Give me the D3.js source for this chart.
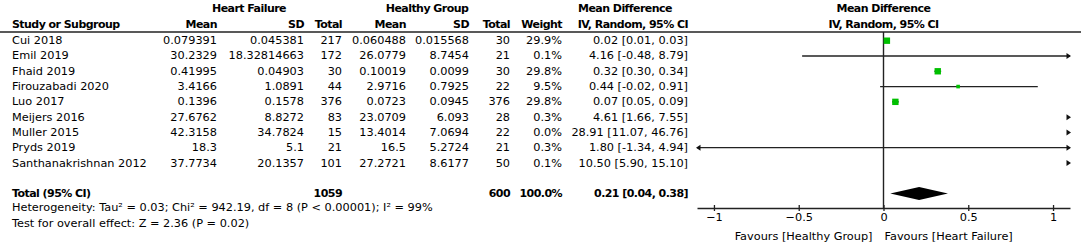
<!DOCTYPE html>
<html lang="en">
<head>
  <meta charset="UTF-8">
  <title>Forest plot: Heart Failure vs Healthy Group</title>
  <style>
    body { margin: 0; background: #fff; }
    svg { display: block; font-family: "DejaVu Sans", sans-serif; font-size: 11.3px; }
    .b { font-weight: bold; font-size: 11px; letter-spacing: -0.55px; }
  </style>
</head>
<body>
  <script src="https://d3js.org/d3.v7.min.js"></script>
  <script>
    // data
    const studies = ['Cui 2018', 'Emil 2019', 'Fhaid 2019', 'Firouzabadi 2020', 'Luo 2017',
      'Meijers 2016', 'Muller 2015', 'Pryds 2019', 'Santhanakrishnan 2012'];
    const hfMean = [0.079391, 30.2329, 0.41995, 3.4166, 0.1396, 27.6762, 42.3158, 18.3, 37.7734];
    const hfSd = [0.045381, 18.32814663, 0.04903, 1.0891, 0.1578, 8.8272, 34.7824, 5.1, 20.1357];
    const hfTotal = [217, 172, 30, 44, 376, 83, 15, 21, 101];
    const hgMean = [0.060488, 26.0779, 0.10019, 2.9716, 0.0723, 23.0709, 13.4014, 16.5, 27.2721];
    const hgSd = [0.015568, 8.7454, 0.0099, 0.7925, 0.0945, 6.093, 7.0694, 5.2724, 8.6177];
    const hgTotal = [30, 21, 30, 22, 376, 28, 22, 21, 50];
    const weight = [29.9, 0.1, 29.8, 9.5, 29.8, 0.3, 0.0, 0.3, 0.1];
    const md = [0.02, 4.16, 0.32, 0.44, 0.07, 4.61, 28.91, 1.80, 10.50];
    const ciLow = [0.01, -0.48, 0.30, -0.02, 0.05, 1.66, 11.07, -1.34, 5.90];
    const ciHigh = [0.03, 8.79, 0.34, 0.91, 0.09, 7.55, 46.76, 4.94, 15.10];
    const total = { hf: 1059, hg: 600, weight: 100.0, md: 0.21, lo: 0.04, hi: 0.38 };
    const axisTicks = [-1, -0.5, 0, 0.5, 1];
    const heterogeneity = 'Heterogeneity: Tau\u00b2 = 0.03; Chi\u00b2 = 942.19, df = 8 (P < 0.00001); I\u00b2 = 99%';
    const overallTest = 'Test for overall effect: Z = 2.36 (P = 0.02)';
    const favours = ['Favours [Healthy Group]', 'Favours [Heart Failure]'];

    const W = 1084, H = 242;
    const svg = d3.select('body').append('svg').attr('width', W).attr('height', H);

    // row positions
    const yRow = d3.scaleLinear().domain([0, studies.length - 1]).range([40.7, 163]);
    const yTotal = 193.5;
    const axisY = 208;

    // x scale of the plot
    const x = d3.scaleLinear().domain([-1.1, 1.1]).range([697, 1070]);
    const sq = d3.scaleSqrt().domain([0, 30]).range([0, 6.4]);

    const fmtW = d => d.toFixed(1) + '%';
    const fmtCI = (m, l, h) => `${m.toFixed(2)} [${l.toFixed(2)}, ${h.toFixed(2)}]`;

    // table columns: right edge x
    const cols = [
      { x: 217, head: 'Mean', val: i => hfMean[i] },
      { x: 304, head: 'SD', val: i => hfSd[i] },
      { x: 342, head: 'Total', val: i => hfTotal[i] },
      { x: 406, head: 'Mean', val: i => hgMean[i] },
      { x: 469, head: 'SD', val: i => hgSd[i] },
      { x: 510, head: 'Total', val: i => hgTotal[i] },
      { x: 562, head: 'Weight', val: i => fmtW(weight[i]) },
      { x: 688, head: 'IV, Random, 95% CI', val: i => fmtCI(md[i], ciLow[i], ciHigh[i]) }
    ];

    const txt = (g, xx, yy, s, anchor, bold) => g.append('text')
      .attr('x', xx).attr('y', yy)
      .attr('dominant-baseline', 'central')
      .attr('text-anchor', anchor || 'start')
      .attr('class', bold ? 'b' : null)
      .text(s);

    const head = svg.append('g');
    txt(head, 249, 8, 'Heart Failure', 'middle', true);
    txt(head, 427, 8, 'Healthy Group', 'middle', true);
    txt(head, 625, 8, 'Mean Difference', 'middle', true);
    txt(head, x(0), 8, 'Mean Difference', 'middle', true);
    txt(head, 12, 24, 'Study or Subgroup', 'start', true);
    cols.forEach(c => txt(head, c.x, 24, c.head, 'end', true));
    txt(head, x(0), 24, 'IV, Random, 95% CI', 'middle', true);

    svg.append('line').attr('x1', 0).attr('x2', 1081).attr('y1', 32).attr('y2', 32)
      .attr('stroke', '#222').attr('stroke-width', 1.6);

    // study rows
    const body = svg.append('g');
    studies.forEach((s, i) => {
      txt(body, 12, yRow(i), s);
      cols.forEach(c => txt(body, c.x, yRow(i), c.val(i), 'end'));
    });

    // total row
    txt(body, 12, yTotal, 'Total (95% CI)', 'start', true);
    txt(body, 342, yTotal, total.hf, 'end', true);
    txt(body, 510, yTotal, total.hg, 'end', true);
    txt(body, 562, yTotal, fmtW(total.weight), 'end', true);
    txt(body, 688, yTotal, fmtCI(total.md, total.lo, total.hi), 'end', true);
    txt(body, 12, 207.5, heterogeneity);
    txt(body, 12, 223, overallTest);

    // plot
    const plot = svg.append('g');
    plot.append('line').attr('x1', x(0)).attr('x2', x(0)).attr('y1', 32).attr('y2', axisY)
      .attr('stroke', '#222').attr('stroke-width', 1.4);

    const [d0, d1] = x.domain();
    const arrow = (yy, dir) => {
      const tip = dir > 0 ? x(d1) + 1 : x(d0) - 1;
      plot.append('path')
        .attr('d', `M${tip},${yy} L${tip - dir * 4.5},${yy - 3} L${tip - dir * 4.5},${yy + 3} Z`)
        .attr('fill', '#111');
    };

    studies.forEach((s, i) => {
      const yy = yRow(i);
      const lo = Math.max(ciLow[i], d0), hi = Math.min(ciHigh[i], d1);
      if (lo < hi) {
        plot.append('line').attr('x1', x(lo)).attr('x2', x(hi)).attr('y1', yy).attr('y2', yy)
          .attr('stroke', '#222').attr('stroke-width', 1.3);
      }
      if (ciHigh[i] > d1) arrow(yy, 1);
      if (ciLow[i] < d0) arrow(yy, -1);
      if (md[i] >= d0 && md[i] <= d1) {
        const s2 = sq(weight[i]);
        plot.append('rect')
          .attr('x', x(md[i]) - s2 / 2).attr('y', yy - s2 / 2)
          .attr('width', s2).attr('height', s2)
          .attr('fill', '#00bf00');
      }
    });

    // pooled diamond
    plot.append('path')
      .attr('d', `M${x(total.lo)},${yTotal} L${x(total.md)},${yTotal - 6.5} L${x(total.hi)},${yTotal} L${x(total.md)},${yTotal + 6.5} Z`)
      .attr('fill', '#000');

    // axis
    const axis = d3.axisBottom(x).tickValues(axisTicks).tickSize(3).tickSizeOuter(0)
      .tickFormat(d3.format(''));
    const ax = svg.append('g').attr('transform', `translate(0,${axisY})`).call(axis);
    ax.select('.domain').attr('stroke', '#222').attr('stroke-width', 1.6);
    ax.selectAll('.tick line').attr('y1', -3).attr('stroke', '#222').attr('stroke-width', 1.3);
    ax.selectAll('.tick text').attr('y', 5).attr('font-family', '"DejaVu Sans", sans-serif')
      .attr('font-size', 11.3).attr('fill', '#000');

    txt(svg, x(0) - 11, 236, favours[0], 'end');
    txt(svg, x(0) + 1, 236, favours[1], 'start');
  </script>
</body>
</html>
